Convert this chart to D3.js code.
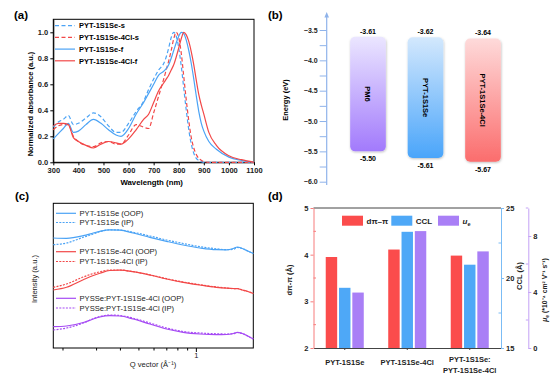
<!DOCTYPE html>
<html>
<head>
<meta charset="utf-8">
<script src="https://cdn.jsdelivr.net/npm/d3@7"></script>
<style>
  body { margin: 0; background: #fff; }
  svg { display: block; font-family: "Liberation Sans", Arial, sans-serif; }
</style>
</head>
<body>
<script>
// ---------- data ----------
// (a) normalized absorbance
const wavelength = [300,320,340,360,380,400,430,460,490,520,550,570,600,630,660,680,700,720,740,750,760,770,780,790,800,810,820,830,840,850,860,870,880,890,900,920,950,1000,1050,1100];
const absSeS   = [0.27,0.31,0.33,0.36,0.29,0.30,0.34,0.38,0.35,0.28,0.23,0.23,0.30,0.39,0.47,0.56,0.64,0.71,0.76,0.81,0.88,0.96,1.0,0.97,0.88,0.74,0.57,0.40,0.25,0.14,0.07,0.03,0.015,0.005,0,0,0,0,0,0];
const absSeClS = [0.25,0.28,0.29,0.29,0.20,0.16,0.13,0.12,0.15,0.16,0.14,0.14,0.21,0.29,0.27,0.26,0.38,0.51,0.64,0.71,0.78,0.86,0.95,1.0,0.96,0.84,0.66,0.48,0.32,0.19,0.11,0.06,0.03,0.015,0.005,0,0,0,0,0];
const absSeF   = [0.18,0.22,0.26,0.30,0.23,0.24,0.29,0.33,0.30,0.25,0.21,0.20,0.26,0.37,0.46,0.53,0.60,0.67,0.70,0.72,0.75,0.80,0.86,0.92,0.97,1.0,0.99,0.94,0.86,0.76,0.64,0.51,0.39,0.30,0.24,0.16,0.10,0.04,0.015,0];
const absSeClF = [0.28,0.30,0.30,0.29,0.19,0.16,0.13,0.11,0.14,0.16,0.15,0.14,0.18,0.25,0.33,0.37,0.46,0.55,0.61,0.64,0.67,0.71,0.75,0.81,0.88,0.95,1.0,0.98,0.93,0.85,0.75,0.63,0.52,0.44,0.37,0.23,0.13,0.05,0.02,0];

// (b) energy levels
const materials = ["PM6", "PYT-1S1Se", "PYT-1S1Se-4Cl"];
const lumo = [-3.61, -3.62, -3.64];
const homo = [-5.50, -5.61, -5.67];

// (c) GIWAXS line cuts (arbitrary offset units)
const qVector = [0.179,0.21,0.257,0.29,0.314,0.354,0.4,0.469,0.574,0.702,0.858,1.05,1.28,1.45,1.57,1.65,1.75,1.87,2.0];
const seOOP   = [11.0,10.97,11.23,11.5,11.67,11.82,11.78,11.5,11.07,10.67,10.3,10.0,9.83,9.82,9.95,10.1,9.95,9.7,9.45];
const seIP    = [10.33,10.5,11.07,11.4,11.63,11.82,11.8,11.57,11.2,10.8,10.45,10.13,9.92,9.83,9.87,10.05,9.95,9.7,9.45];
const clOOP   = [5.8,6.07,6.83,7.25,7.47,7.75,7.78,7.63,7.3,6.9,6.57,6.3,6.07,5.98,5.95,5.93,5.8,5.65,5.45];
const clIP    = [6.07,6.4,7.1,7.45,7.62,7.8,7.8,7.63,7.32,6.93,6.6,6.33,6.1,6.0,5.93,5.95,5.8,5.65,5.45];
const blendOOP = [2.13,2.2,2.55,2.9,3.1,3.23,3.2,2.9,2.4,1.9,1.57,1.4,1.33,1.35,1.45,1.57,1.45,1.2,0.9];
const blendIP  = [1.8,2.0,2.5,2.93,3.15,3.3,3.25,2.98,2.5,2.0,1.65,1.5,1.42,1.4,1.42,1.55,1.45,1.2,0.9];

// (d) packing and mobility
const films = ["PYT-1S1Se", "PYT-1S1Se-4Cl", "PYT-1S1Se:PYT-1S1Se-4Cl"];
const dPiPi = [3.95, 4.11, 3.98];
const ccl = [19.3, 23.3, 20.95];
const mobility = [3.96, 8.35, 6.9];

// ---------- svg ----------
const svg = d3.select("body").append("svg")
    .attr("width", 554)
    .attr("height", 378);

const blue = "#4ba3f5", red = "#f24848", violet = "#a64bf4";

function panelLabel(x, y, t) {
  svg.append("text").attr("x", x).attr("y", y)
    .attr("font-size", 11.5).attr("font-weight", "bold").text(t);
}
panelLabel(14, 19, "(a)");
panelLabel(268, 19, "(b)");
panelLabel(15, 200, "(c)");
panelLabel(268, 200, "(d)");

// ========== (a) ==========
const xA = d3.scaleLinear().domain([300, 1100]).range([53.3, 254]);
const yA = d3.scaleLinear().domain([0, 1.1]).range([162.3, 19.3]);
const gA = svg.append("g");

gA.append("g")
    .attr("transform", "translate(0,162.3)")
    .call(d3.axisBottom(xA).tickValues(d3.range(300, 1101, 100)).tickFormat(d3.format("d"))
      .tickSize(3).tickSizeOuter(0).tickPadding(2))
    .call(g => g.selectAll("text").attr("font-size", 7.5).attr("font-weight", "bold").attr("fill", "#222"));
gA.append("g")
    .attr("transform", "translate(53.3,0)")
    .call(d3.axisLeft(yA).tickValues(d3.range(0, 1.01, 0.2)).tickFormat(d3.format(".1f")).tickSize(3).tickSizeOuter(0).tickPadding(2))
    .call(g => g.selectAll("text").attr("font-size", 7.5).attr("font-weight", "bold").attr("fill", "#222"));
gA.append("rect").attr("x", 53.3).attr("y", 19.3).attr("width", 254 - 53.3).attr("height", 143)
    .attr("fill", "none").attr("stroke", "#000").attr("stroke-width", 1);

const lineA = ys => d3.line()
    .x((d, i) => xA(wavelength[i]))
    .y(d => yA(d))
    .curve(d3.curveMonotoneX)(ys);

const seriesA = [
  {name: "PYT-1S1Se-s", ys: absSeS, color: blue, dash: "4,2.5"},
  {name: "PYT-1S1Se-4Cl-s", ys: absSeClS, color: red, dash: "4,2.5"},
  {name: "PYT-1S1Se-f", ys: absSeF, color: blue, dash: null},
  {name: "PYT-1S1Se-4Cl-f", ys: absSeClF, color: red, dash: null}
];
seriesA.forEach((s, i) => {
  gA.append("path").attr("d", lineA(s.ys))
    .attr("fill", "none").attr("stroke", s.color).attr("stroke-width", 1.2)
    .attr("stroke-dasharray", s.dash);
  const ly = 25.7 + i * 11.7;
  gA.append("line").attr("x1", 55).attr("x2", 75).attr("y1", ly).attr("y2", ly)
    .attr("stroke", s.color).attr("stroke-width", 1.2).attr("stroke-dasharray", s.dash);
  gA.append("text").attr("x", 79).attr("y", ly + 2.7)
    .attr("font-size", 7.5).attr("font-weight", "bold").text(s.name);
});

gA.append("text").attr("x", 151.7).attr("y", 184.5).attr("text-anchor", "middle")
  .attr("font-size", 7.8).attr("font-weight", "bold").text("Wavelength (nm)");
gA.append("text").attr("transform", "translate(33,104) rotate(-90)").attr("text-anchor", "middle")
  .attr("font-size", 7.5).attr("font-weight", "bold").text("Normalized absorbance (a.u.)");

// ========== (b) ==========
const yB = d3.scaleLinear().domain([-6.0, -3.5]).range([181.7, 30]);
const xB = d3.scaleBand().domain(materials).range([339.25, 511.75]).paddingInner(0.38).paddingOuter(0.19);
const axisBlue = "#8fb3ea";
const gB = svg.append("g");

const defs = svg.append("defs");
const grads = [["#ebe6ff", "#a27afc"], ["#d3e8fd", "#4aa5fa"], ["#fedada", "#fb6d6d"]];
grads.forEach((c, i) => {
  const lg = defs.append("linearGradient").attr("id", "gB" + i).attr("x1", 0).attr("y1", 0).attr("x2", 0).attr("y2", 1);
  lg.append("stop").attr("offset", "0%").attr("stop-color", c[0]);
  lg.append("stop").attr("offset", "100%").attr("stop-color", c[1]);
});
defs.append("filter").attr("id", "shadow").attr("x", "-20%").attr("y", "-10%").attr("width", "140%").attr("height", "120%")
  .append("feDropShadow").attr("dx", 0.5).attr("dy", 1).attr("stdDeviation", 1)
  .attr("flood-color", "#000").attr("flood-opacity", 0.25);

gB.append("g")
    .attr("transform", "translate(326.7,0)")
    .call(d3.axisLeft(yB).tickValues(d3.range(-6.0, -3.49, 0.25)).tickSize(7)
      .tickFormat(d => (Math.round(d * 4) % 2 === 0) ? d3.format(".1f")(d) : "").tickSizeOuter(0).tickPadding(2))
    .call(g => g.select(".domain").remove())
    .call(g => g.selectAll("line").attr("stroke", axisBlue))
    .call(g => g.selectAll("text").attr("font-size", 7).attr("font-weight", "bold").attr("fill", "#222"));
gB.append("line").attr("x1", 326.7).attr("x2", 326.7).attr("y1", 185).attr("y2", 15)
  .attr("stroke", axisBlue).attr("stroke-width", 1.2);
gB.append("path").attr("d", "M326.7,12 L324.4,17.5 L329,17.5 Z").attr("fill", axisBlue);

gB.selectAll(".lvl").data(materials).join("rect")
  .attr("x", d => xB(d))
  .attr("y", (d, i) => yB(lumo[i]))
  .attr("width", xB.bandwidth())
  .attr("height", (d, i) => yB(homo[i]) - yB(lumo[i]))
  .attr("rx", 5)
  .attr("fill", (d, i) => `url(#gB${i})`)
  .attr("filter", "url(#shadow)");

gB.selectAll(".lumo").data(materials).join("text")
  .attr("x", d => xB(d) + xB.bandwidth() / 2)
  .attr("y", (d, i) => yB(lumo[i]) - 3)
  .attr("text-anchor", "middle").attr("font-size", 7).attr("font-weight", "bold")
  .text((d, i) => lumo[i].toFixed(2));
gB.selectAll(".homo").data(materials).join("text")
  .attr("x", d => xB(d) + xB.bandwidth() / 2)
  .attr("y", (d, i) => yB(homo[i]) + 10)
  .attr("text-anchor", "middle").attr("font-size", 7).attr("font-weight", "bold")
  .text((d, i) => homo[i].toFixed(2));
gB.selectAll(".mname").data(materials).join("text")
  .attr("transform", (d, i) => `translate(${xB(d) + xB.bandwidth() / 2},${(yB(lumo[i]) + yB(homo[i])) / 2}) rotate(90)`)
  .attr("text-anchor", "middle").attr("dy", "0.35em")
  .attr("font-size", 7.5).attr("font-weight", "bold")
  .text(d => d);

gB.append("text").attr("transform", "translate(288,100) rotate(-90)").attr("text-anchor", "middle")
  .attr("font-size", 7.5).attr("font-weight", "bold").text("Energy (eV)");

// ========== (c) ==========
const xC = d3.scaleLog().domain([0.179, 2.0]).range([53.3, 253.3]);
const yC = d3.scaleLinear().domain([0, 14.47]).range([348, 203.3]);
const gC = svg.append("g");

const qTicks = [0.2,0.3,0.4,0.5,0.6,0.7,0.8,0.9,1];
gC.append("g")
    .attr("transform", "translate(0,348)")
    .call(d3.axisBottom(xC).tickValues(qTicks).tickSize(2.5).tickSizeOuter(0).tickPadding(2)
      .tickFormat(d => d === 1 ? "1" : ""))
    .call(g => g.select(".domain").remove())
    .call(g => g.selectAll(".tick").filter(d => d === 1).select("line").attr("y2", 4))
    .call(g => g.selectAll("text").attr("font-size", 7.5).attr("fill", "#222"));
gC.append("rect").attr("x", 53.3).attr("y", 203.3).attr("width", 200).attr("height", 144.7)
  .attr("fill", "none").attr("stroke", "#000").attr("stroke-width", 1);

const lineC = ys => d3.line()
    .x((d, i) => xC(qVector[i]))
    .y(d => yC(d))
    .curve(d3.curveMonotoneX)(ys);

const seriesC = [
  {name: "PYT-1S1Se (OOP)", ys: seOOP, color: blue, dash: null, ly: 213.3},
  {name: "PYT-1S1Se (IP)", ys: seIP, color: blue, dash: "2,1.3", ly: 222.5},
  {name: "PYT-1S1Se-4Cl (OOP)", ys: clOOP, color: red, dash: null, ly: 251.7},
  {name: "PYT-1S1Se-4Cl (IP)", ys: clIP, color: red, dash: "2,1.3", ly: 261.5},
  {name: "PYSSe:PYT-1S1Se-4Cl (OOP)", ys: blendOOP, color: violet, dash: null, ly: 298.3},
  {name: "PYSSe:PYT-1S1Se-4Cl (IP)", ys: blendIP, color: violet, dash: "2,1.3", ly: 308}
];
seriesC.forEach(s => {
  gC.append("path").attr("d", lineC(s.ys))
    .attr("fill", "none").attr("stroke", s.color).attr("stroke-width", 1.2)
    .attr("stroke-dasharray", s.dash);
  gC.append("line").attr("x1", 56).attr("x2", 76).attr("y1", s.ly).attr("y2", s.ly)
    .attr("stroke", s.color).attr("stroke-width", 1.2).attr("stroke-dasharray", s.dash);
  gC.append("text").attr("x", 79.5).attr("y", s.ly + 2.7)
    .attr("font-size", 7.6).attr("fill", "#222").text(s.name);
});

gC.append("text").attr("x", 153).attr("y", 367).attr("text-anchor", "middle")
  .attr("font-size", 7.6).attr("fill", "#222").text("Q vector (Å⁻¹)");
gC.append("text").attr("transform", "translate(37,279) rotate(-90)").attr("text-anchor", "middle")
  .attr("font-size", 7.6).attr("fill", "#222").text("Intensity (a.u.)");

// ========== (d) ==========
const xD = d3.scaleBand().domain(films).range([313.5, 501]);
const sub = d3.scaleBand().domain(["d", "c", "m"]).range([0, xD.bandwidth()]).paddingInner(0.14).paddingOuter(0.92);
const yL = d3.scaleLinear().domain([2, 5]).range([348, 208]);
const yR = d3.scaleLinear().domain([15, 25]).range([348, 208]);
const yU = d3.scaleLinear().domain([0, 10]).range([348, 208]);
const gD = svg.append("g");
const redAx = "#f77d7d", blueAx = "#7bbcf5", violetAx = "#c3a2f5";
const barRed = "#fb4c4c", barBlue = "#4ea8f7", barViolet = "#a97ff6";

// bars
gD.selectAll(".bd").data(films).join("rect")
  .attr("x", d => xD(d) + sub("d")).attr("width", sub.bandwidth())
  .attr("y", (d, i) => yL(dPiPi[i])).attr("height", (d, i) => 348 - yL(dPiPi[i]))
  .attr("fill", barRed);
gD.selectAll(".bc").data(films).join("rect")
  .attr("x", d => xD(d) + sub("c")).attr("width", sub.bandwidth())
  .attr("y", (d, i) => yR(ccl[i])).attr("height", (d, i) => 348 - yR(ccl[i]))
  .attr("fill", barBlue);
gD.selectAll(".bm").data(films).join("rect")
  .attr("x", d => xD(d) + sub("m")).attr("width", sub.bandwidth())
  .attr("y", (d, i) => yU(mobility[i])).attr("height", (d, i) => 348 - yU(mobility[i]))
  .attr("fill", barViolet);

// frame top / bottom
gD.append("line").attr("x1", 313.5).attr("x2", 501).attr("y1", 208).attr("y2", 208).attr("stroke", "#444").attr("stroke-width", 1);
gD.append("g")
    .attr("transform", "translate(0,348)")
    .call(d3.axisBottom(xD).tickSize(2).tickSizeOuter(0).tickFormat(""))
    .call(g => g.select(".domain").attr("stroke", "#444"))
    .call(g => g.selectAll("line").attr("stroke", "#444"));

function sideAxis(scale, x, major, minor, color, left) {
  const g = gD.append("g").attr("transform", `translate(${x},0)`);
  const ax = left ? d3.axisLeft(scale) : d3.axisRight(scale);
  g.call(ax.tickValues(major).tickFormat(d3.format("d")).tickSize(3).tickSizeOuter(0).tickPadding(2))
    .call(s => s.select(".domain").attr("stroke", color))
    .call(s => s.selectAll("line").attr("stroke", color))
    .call(s => s.selectAll("text").attr("font-size", 7.5).attr("font-weight", "bold").attr("fill", "#222"));
  g.selectAll(".mn").data(minor).join("line")
    .attr("x1", 0).attr("x2", left ? 2.5 : -2.5)
    .attr("y1", d => scale(d)).attr("y2", d => scale(d))
    .attr("stroke", color);
}
sideAxis(yL, 313.5, [2, 3, 4, 5], [2.5, 3.5, 4.5], redAx, true);
sideAxis(yR, 501, [15, 20, 25], [17.5, 22.5], blueAx, false);
sideAxis(yU, 528.3, [0, 4, 8], [2, 6, 10], violetAx, false);

// category labels
gD.selectAll(".cat").data(films).join("text")
  .attr("x", d => xD(d) + xD.bandwidth() / 2)
  .attr("y", 364.5)
  .attr("text-anchor", "middle").attr("font-size", 7.5).attr("font-weight", "bold").attr("fill", "#222")
  .each(function(d) {
    const parts = d.split(":");
    const t = d3.select(this);
    if (parts.length === 1) { t.text(d); return; }
    t.attr("y", 361.5);
    t.append("tspan").attr("x", xD(d) + xD.bandwidth() / 2).text(parts[0] + ":");
    t.append("tspan").attr("x", xD(d) + xD.bandwidth() / 2).attr("dy", 11.5).text(parts[1]);
  });

// legend
const legD = [
  {x: 342, color: barRed, label: "dπ–π"},
  {x: 391.3, color: barBlue, label: "CCL"},
  {x: 438, color: barViolet, label: "u"}
];
legD.forEach(l => {
  gD.append("rect").attr("x", l.x).attr("y", 215.7).attr("width", 21).attr("height", 10).attr("fill", l.color);
  const t = gD.append("text").attr("x", l.x + 24.5).attr("y", 223.8)
    .attr("font-size", 8).attr("font-weight", "bold").attr("fill", "#222");
  if (l.label === "u") {
    t.append("tspan").attr("font-style", "italic").text("u");
    t.append("tspan").attr("font-size", 5.5).attr("dy", 2).text("e");
  } else t.text(l.label);
});

// axis titles
gD.append("text").attr("transform", "translate(292,280) rotate(-90)").attr("text-anchor", "middle")
  .attr("font-size", 7.5).attr("font-weight", "bold").attr("fill", "#222").text("dπ-π (Å)");
gD.append("text").attr("transform", "translate(522,276) rotate(-90)").attr("text-anchor", "middle")
  .attr("font-size", 7.5).attr("font-weight", "bold").attr("fill", "#222").text("CCL (Å)");
const mu = gD.append("text").attr("transform", "translate(547,290) rotate(-90)").attr("text-anchor", "middle")
  .attr("font-size", 6.8).attr("font-weight", "bold").attr("fill", "#222");
mu.append("tspan").attr("font-style", "italic").text("μ");
mu.append("tspan").attr("font-size", 5).attr("dy", 1.5).text("e");
mu.append("tspan").attr("dy", -1.5).text(" (*10⁻⁴ cm² V⁻¹ s⁻¹)");
</script>
</body>
</html>
